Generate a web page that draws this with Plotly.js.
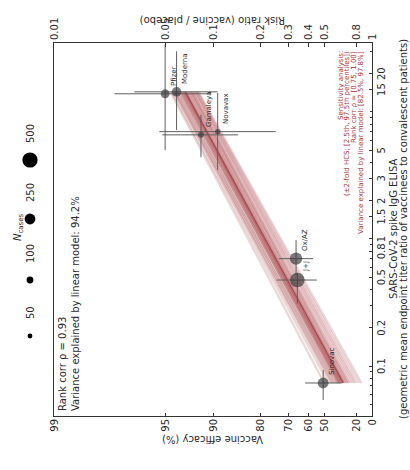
<!DOCTYPE html>
<html><head><meta charset="utf-8">
<script src="https://cdn.plot.ly/plotly-3.0.1.min.js"></script>
<style>
html,body{margin:0;padding:0;background:#fff;overflow:hidden;width:410px;height:470px;}
#wrap{position:absolute;left:0;top:0;width:470px;height:410px;transform-origin:0 0;transform:translate(0px,470px) rotate(-90deg);}
#chart{width:470px;height:410px;}
</style></head><body>
<div id="wrap"><div id="chart"></div></div>
<script>
// ---- data ----
const vaccines   = ['Moderna','Pfizer','Gamaleya','Novavax','Ox/AZ','J+J','Sinovac'];
const efficacy   = [94.1, 95.0, 91.6, 89.3, 66.7, 66.1, 50.7];
const efficacyLo = [89.3, 90.3, 85.6, 75.2, 57.4, 55.0, 35.7];
const efficacyHi = [96.8, 97.6, 95.2, 95.4, 74.0, 74.8, 62.0];
const titerRatio = [14.4, 13.9, 6.6, 7.0, 0.70, 0.475, 0.0735];
const titerLo    = [7.2, 5.0, 4.4, 3.5, 0.52, 0.31, 0.054];
const titerHi    = [30, 34, 9.5, 14.1, 0.98, 0.54, 0.093];
const nCases     = [196, 170, 78, 62, 332, 464, 253];
const legendCases = [50, 100, 250, 500];
const veTicks    = [99, 95, 90, 80, 70, 60, 50, 20, 0];
const rrTickText = ['0.01','0.05','0.1','0.2','0.3','0.4','0.5','0.8','1'];
const titerTicks = [0.1, 0.2, 0.5, 0.8, 1, 1.5, 2, 3, 5, 15, 20];
const titerTickText = ['0.1','0.2','0.5','0.8','1','1.5','2','3','5','15','20'];
const titerMinorTicks = [0.05,0.06,0.07,0.08,0.09,0.3,0.4,0.6,0.7,0.9,4,6,7,8,9,10,30];
// sensitivity-analysis regression lines: efficacy (%) at lowest and highest titer
const bandVeAtMinTiter = [50, 47, 45, 43, 42, 41, 40, 39, 38, 37.5, 37, 36, 35.5, 35, 34, 33.5, 33, 32, 31, 30, 29, 28, 26, 24, 22, 20, 17, 14, 44, 38.5, 36.5, 34.5];
const bandVeAtMaxTiter = [94.6, 94.5, 94.3, 94.2, 94.0, 94.1, 93.9, 93.7, 93.8, 93.6, 93.5, 93.5, 93.3, 93.4, 93.2, 93.0, 93.1, 92.9, 92.8, 92.7, 92.6, 92.6, 92.4, 92.3, 92.2, 92.1, 92.0, 91.9, 94.3, 93.7, 93.4, 93.3];
const fitVe = [34, 93.3];

// ---- helpers / styles ----
const W = 470, H = 410, L = 54, R = 43, T = 54, B = 38;
const PW = W - L - R, PH = H - T - B;
const px = xo => (xo - L) / PW;
const py = yo => (H - B - yo) / PH;
const rr = v => 1 - v / 100;
const dia = n => 0.68 * Math.sqrt(n);
const FONT = 'DejaVu Sans, Liberation Sans, sans-serif';
const INK = '#2a2a2a';

const tMin = Math.min(...titerRatio), tMax = Math.max(...titerRatio);
const traces = [];
bandVeAtMinTiter.forEach((v0, i) => {
  traces.push({x: [tMin, tMax], y: [rr(v0), rr(bandVeAtMaxTiter[i])], mode: 'lines',
    line: {color: 'rgba(150,25,30,0.17)', width: 2.4}, hoverinfo: 'skip'});
});
traces.push({x: [tMin, tMax], y: fitVe.map(rr), mode: 'lines',
  line: {color: 'rgba(130,15,20,0.45)', width: 1.2}, hoverinfo: 'skip'});

const RRv = efficacy.map(rr);
traces.push({
  x: titerRatio, y: RRv, mode: 'markers', type: 'scatter',
  marker: {size: nCases.map(dia), color: 'rgba(55,55,55,0.95)', line: {width: 0}},
  error_x: {type: 'data', symmetric: false,
    array: titerHi.map((h, i) => h - titerRatio[i]),
    arrayminus: titerLo.map((l, i) => titerRatio[i] - l),
    color: 'rgb(95,95,95)', thickness: 1, width: 0},
  error_y: {type: 'data', symmetric: false,
    array: efficacyLo.map((l, i) => rr(l) - RRv[i]),
    arrayminus: efficacyHi.map((h, i) => RRv[i] - rr(h)),
    color: 'rgb(95,95,95)', thickness: 1, width: 0}
});
// invisible trace to anchor right axis
traces.push({x: [tMin], y: [0.5], yaxis: 'y2', mode: 'markers', marker: {opacity: 0}, hoverinfo: 'skip'});

const rrTicks = veTicks.map(rr);
const annotations = [];
vaccines.forEach((name, i) => {
  annotations.push({x: Math.log10(titerRatio[i]), y: Math.log10(RRv[i]), xref: 'x', yref: 'y',
    text: name, showarrow: false, xanchor: 'left', yanchor: 'middle', xshift: 6, yshift: -8.5,
    font: {size: 7, color: INK, family: FONT}});
});
annotations.push({x: px(57), y: py(55), xref: 'paper', yref: 'paper', xanchor: 'left', yanchor: 'top', align: 'left',
  showarrow: false, text: 'Rank corr ρ = 0.93<br>Variance explained by linear model: 94.2%',
  font: {size: 10, color: INK, family: FONT}});
const sens = ['Sensitivity analysis:', '(±2-fold HCS; [2.5th, 97.5th percentiles])',
  'Rank corr ρ = [0.75, 1.00]', 'Variance explained by linear model: [82.5%, 97.8%]'];
sens.forEach((s, i) => annotations.push({x: px(420), y: py(340.5 + i * 6.9), xref: 'paper', yref: 'paper',
  xanchor: 'right', yanchor: 'middle', showarrow: false, text: s, borderpad: 0,
  font: {size: 7, color: '#a5333d', family: FONT}}));
annotations.push({x: px(30), y: 0.5, xref: 'paper', yref: 'paper', textangle: -90, showarrow: false,
  xanchor: 'center', yanchor: 'middle',
  text: 'Vaccine efficacy (%)', font: {size: 10, color: INK, family: FONT}});
annotations.push({x: px(449), y: 0.5, xref: 'paper', yref: 'paper', textangle: -90, showarrow: false,
  xanchor: 'center', yanchor: 'middle',
  text: 'Risk ratio (vaccine / placebo)', font: {size: 10, color: INK, family: FONT}});
annotations.push({x: 0.5, y: py(393), xref: 'paper', yref: 'paper', showarrow: false, xanchor: 'center', yanchor: 'middle',
  text: 'SARS-CoV-2 spike IgG ELISA', font: {size: 10, color: INK, family: FONT}, borderpad: 0});
annotations.push({x: 0.5, y: py(403.5), xref: 'paper', yref: 'paper', showarrow: false, xanchor: 'center', yanchor: 'middle',
  text: '(geometric mean endpoint titer ratio of vaccinees to convalescent patients)', font: {size: 10, color: INK, family: FONT}, borderpad: 0});
// size legend
const legendPosPx = [134, 190, 251, 310];
const shapes = [];
legendCases.forEach((n, i) => {
  const r = dia(n) / 2;
  shapes.push({type: 'circle', xref: 'paper', yref: 'paper', xsizemode: 'pixel', ysizemode: 'pixel',
    xanchor: px(legendPosPx[i]), yanchor: py(30), x0: -r, x1: r, y0: -r, y1: r,
    fillcolor: '#000', line: {width: 0}});
  annotations.push({x: px(legendPosPx[i] + 15), y: py(30), xref: 'paper', yref: 'paper', xanchor: 'left',
    yanchor: 'middle', showarrow: false, text: String(n), font: {size: 10, color: INK, family: FONT}});
});
annotations.push({x: px(243), y: py(19), xref: 'paper', yref: 'paper', xanchor: 'center', yanchor: 'middle',
  showarrow: false, text: '<i>N</i><sub>cases</sub>', font: {size: 10, color: INK, family: FONT}});

const layout = {
  width: W, height: H, margin: {l: L, r: R, t: T, b: B},
  paper_bgcolor: '#fff', plot_bgcolor: '#fff', showlegend: false,
  font: {family: FONT, size: 10, color: INK},
  xaxis: {type: 'log', range: [Math.log10(0.0404), Math.log10(34.9)], autorange: false,
    tickmode: 'array', tickvals: titerTicks, ticktext: titerTickText, tickangle: 0,
    ticks: 'inside', ticklen: 3.5, tickcolor: '#333', showgrid: false, zeroline: false,
    showline: true, linecolor: '#333', linewidth: 1, mirror: true,
    tickfont: {size: 10, color: INK, family: FONT},
    minor: {tickmode: 'array', tickvals: titerMinorTicks, ticks: 'inside', ticklen: 2, tickcolor: '#333', showgrid: false}},
  yaxis: {type: 'log', range: [0, -2], autorange: false, tickmode: 'array', tickvals: rrTicks,
    ticktext: veTicks.map(String), ticks: 'inside', ticklen: 3.5, tickcolor: '#333', tickangle: 0,
    showgrid: false, zeroline: false, showline: true, linecolor: '#333', linewidth: 1,
    tickfont: {size: 10, color: INK, family: FONT}},
  yaxis2: {type: 'log', range: [0, -2], autorange: false, overlaying: 'y', side: 'right',
    tickmode: 'array', tickvals: rrTicks, ticktext: rrTickText, ticks: 'inside', ticklen: 3.5, tickangle: 0,
    tickcolor: '#333', showgrid: false, zeroline: false, showline: true, linecolor: '#333', linewidth: 1,
    tickfont: {size: 10, color: INK, family: FONT}},
  annotations: annotations, shapes: shapes
};
Plotly.newPlot('chart', traces, layout, {staticPlot: true, displayModeBar: false});
</script></body></html>
